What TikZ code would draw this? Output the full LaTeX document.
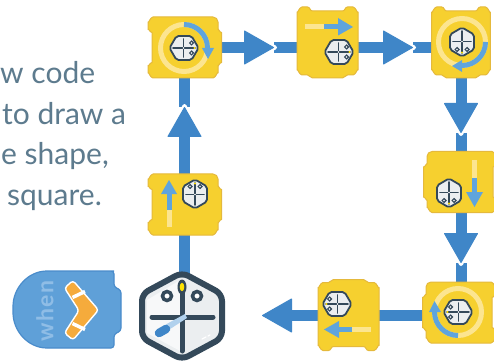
\documentclass[tikz,border=0pt]{standalone}
\usepackage{fontspec}
\setmainfont{Lato}
\definecolor{flowblue}{HTML}{3F86C8}
\definecolor{blockfill}{HTML}{F6D02F}
\definecolor{blockedge}{HTML}{E5B93C}
\definecolor{paleband}{HTML}{FCE590}
\definecolor{markblue}{HTML}{5FA4DD}
\definecolor{botdark}{HTML}{34495A}
\definecolor{botface}{HTML}{EBEEF0}
\definecolor{bodytext}{HTML}{5D7B8E}
\definecolor{hatfill}{HTML}{5FA0D8}
\definecolor{hatedge}{HTML}{4A8CCB}
\definecolor{hattext}{HTML}{8FBDE6}
\definecolor{boomorange}{HTML}{F5AB3C}
\tikzset{
  flowline/.style={draw=flowblue,line width=11pt},
  blockbody/.style={fill=blockfill,draw=blockedge,line width=1pt,line join=round},
  paleline/.style={draw=paleband,line width=5pt},
  markline/.style={draw=markblue,line width=5pt},
  markhead/.style={fill=markblue},
  saytext/.style={anchor=base west,inner sep=0pt,text=bodytext,font=\fontsize{30}{34}\selectfont},
  hblock/.pic={
    \path[blockbody] (0,-30.5)
      -- (30,-30.5) to[out=0,in=90] (35,-25.5) -- (35,-18) to[out=90,in=180] (38.5,-15) -- (38.5,15) to[out=180,in=-90] (35,18)
      -- (35,25.5) to[out=90,in=0] (30,30.5) -- (-30,30.5) to[out=180,in=90] (-35,25.5)
      -- (-35,18) to[out=-90,in=180] (-31,15) -- (-31,-15) to[out=180,in=90] (-35,-18)
      -- (-35,-25.5) to[out=-90,in=180] (-30,-30.5) -- cycle;
  },
  vblock/.pic={
    \path[blockbody] (0,-30)
      -- (15,-30) to[out=0,in=180] (20,-34) -- (25.5,-34) to[out=0,in=-90] (30.5,-29)
      -- (30.5,29) to[out=90,in=0] (25.5,34) -- (20,34) to[out=180,in=0] (15,37)
      -- (-15,37) to[out=180,in=0] (-20,34) -- (-25.5,34) to[out=180,in=90] (-30.5,29)
      -- (-30.5,-29) to[out=-90,in=180] (-25.5,-34) -- (-20,-34) to[out=0,in=180] (-15,-30) -- cycle;
  },
  minibot/.pic={
    \path[fill=botface,draw=botdark,line width=1.8pt,rounded corners=2pt]
      (0,-14.5) -- (12,-7.5) -- (12,7.5) -- (0,14.5) -- (-12,7.5) -- (-12,-7.5) -- cycle;
    \draw[botdark,line width=1.9pt,line cap=round] (0,-11) -- (0,11);
    \draw[botdark,line width=1.9pt,line cap=round] (-9,0.5) -- (9,0.5);
    \fill[white] (0,0.5) circle[radius=0.8];
    \path[fill=white,draw=botdark,line width=1.2pt] (-5,-7.5) circle[radius=1.9];
    \path[fill=white,draw=botdark,line width=1.2pt] (5,-7.5) circle[radius=1.9];
    \fill[yellow!80!orange] (0,-10.5) circle[radius=1.2];
  },
  flowhead/.pic={
    \path[fill=flowblue,draw=flowblue,line width=1pt,line join=round]
      (-0.5,0) -- (-29.5,-16.5) -- (-29.5,16.5) -- cycle;
  },
  flowhalo/.pic={
    \path[fill=white,draw=white,line width=4pt,line join=round]
      (1,0) -- (-29.5,-16.5) -- (-29.5,16.5) -- cycle;
  }
}
\newcommand{\flowh}[4]{%
  \draw[flowline] (#3) -- (#3 -| #2);
  \pic[rotate=#4] at (#3) {flowhalo};
  \draw[flowline,shorten >=15pt] (#3 -| #1) -- (#3);
  \pic[rotate=#4] at (#3) {flowhead};
}
\newcommand{\flowv}[4]{%
  \draw[flowline] (#3) -- (#3 |- #2);
  \pic[rotate=#4] at (#3) {flowhalo};
  \draw[flowline,shorten >=15pt] (#3 |- #1) -- (#3);
  \pic[rotate=#4] at (#3) {flowhead};
}
\begin{document}
\begin{tikzpicture}[x=1pt,y=-1pt]
\clip (0,0) rectangle (494,363);
\fill[white] (0,0) rectangle (494,363);
% text
\node[saytext] (say1) at (0,84) {w code};
\node[saytext] (say2) at (2,125) {to draw a};
\node[saytext] (say3) at (1,165) {e shape,};
\node[saytext] (say4) at (7,205) {square.};
% anchors
\coordinate (robot) at (182,316);
\coordinate (bforeright) at (183,47.5);
\coordinate (bforward) at (327.5,41);
\coordinate (btopright) at (461,41);
\coordinate (bdown) at (462,182);
\coordinate (bbotright) at (461,312.5);
\coordinate (bback) at (348.5,316.5);
\coordinate (bup) at (183,204.5);
\coordinate (tipa) at (274,47.5);
\coordinate (tipb) at (413,47.5);
\coordinate (tipc) at (461,133);
\coordinate (tipd) at (461,263);
\coordinate (tipe) at (262,315.5);
\coordinate (tipf) at (184.5,107);
% connectors
\draw[flowline] (tipf |- robot) -- (tipf |- bup);
\flowv{bup}{bforeright}{tipf}{90}
\flowh{bforeright}{bforward}{tipa}{0}
\flowh{bforward}{btopright}{tipb}{0}
\flowv{btopright}{bdown}{tipc}{-90}
\flowv{bdown}{bbotright}{tipd}{-90}
\draw[flowline] (tipe -| bbotright) -- (tipe -| bback);
\draw[flowline,shorten >=15pt] (tipe -| bback) -- (tipe);
\pic[rotate=180] at (tipe) {flowhead};
% blocks
\pic at (bforeright) {hblock};
\pic at (bup) {hblock};
\pic[xscale=-1] at (bdown) {hblock};
\pic[xscale=-1] at (bbotright) {hblock};
\pic at (bforward) {vblock};
\pic[xscale=.96] at (btopright) {vblock};
\pic[yscale=-1] at (bback) {vblock};
% block 1: turn right
\draw[paleline] (184,48) circle[radius=23.5];
\draw[markline] (184,48) ++(-90:23.5) arc[start angle=-90,end angle=0,radius=23.5];
\fill[markhead] (202,48) -- (214,48) -- (208,59) -- cycle;
\pic[rotate=-90] at (184,48) {minibot};
% block 2: forward
\draw[paleline] (305,27) -- (325,27);
\draw[markline] (324,27) -- (339,27);
\fill[markhead] (338,18) -- (338,35.5) -- (353,27) -- cycle;
\pic[rotate=-90] at (339,52) {minibot};
% block 3: turn right
\draw[paleline] (462,42) circle[radius=23.5];
\draw[markline] (462,42) ++(0:23.5) arc[start angle=0,end angle=90,radius=23.5];
\fill[markhead] (462,60) -- (462,72) -- (452,66) -- cycle;
\pic[rotate=180] at (462,42) {minibot};
% block 4: down
\draw[paleline] (474,160) -- (474,179);
\draw[markline] (474,178) -- (474,193);
\fill[markhead] (466,192) -- (483,192) -- (474.5,207) -- cycle;
\pic[rotate=180] at (449,193) {minibot};
% block 6: turn
\draw[paleline] (458,312) circle[radius=23.5];
\draw[markline] (458,312) ++(90:23.5) arc[start angle=90,end angle=180,radius=23.5];
\fill[markhead] (429,312) -- (441,312) -- (434.5,301) -- cycle;
\pic[rotate=90] at (458,312) {minibot};
% block 5: back
\draw[paleline] (371,329) -- (351,329);
\draw[markline] (352,329) -- (337,329);
\fill[markhead] (339,321) -- (339,338) -- (324,329.5) -- cycle;
\pic[rotate=90] at (337,304) {minibot};
% block 7: up
\draw[paleline] (169,227) -- (169,209);
\draw[markline] (169,210) -- (169,193);
\fill[markhead] (161,194) -- (177,194) -- (169,180) -- cycle;
\pic at (195,194) {minibot};
% robot
\path[fill=botface,draw=botdark,line width=6pt,rounded corners=7pt,line join=round]
  (robot) ++(0,-43.5) -- ++(40,21.5) -- ++(0,44) -- ++(-40,21.5) -- ++(-40,-21.5) -- ++(0,-44) -- cycle;
\fill[white,opacity=.6] (147,300) -- (182,279) -- (182,352) -- (147,333) -- cycle;
\draw[botdark,line width=5pt,line cap=round] (182,284) -- (182,351);
\draw[botdark,line width=5pt,line cap=round] (152,317) -- (213,317);
\fill[botdark] (182,287) ellipse[x radius=4.5,y radius=7.5];
\fill[yellow!85!orange] (182,287) ellipse[x radius=2.3,y radius=4.2];
\path[fill=white,draw=botdark,line width=3.5pt] (167,296) circle[radius=4.5];
\path[fill=white,draw=botdark,line width=3.5pt] (197,296) circle[radius=4.5];
\fill[hattext!70!white] (185,314) -- (187,318) -- (167,331) -- (163,326) -- cycle;
\draw[flowblue,line width=8.5pt,line cap=round] (159,333) -- (166,329);
\draw[white,line width=1.3pt,line cap=round] (202,339) -- (206,337);
\draw[white,line width=1.3pt,line cap=round] (208,336) -- (210,335);
% when hat
\path[fill=hatfill,draw=hatedge,line width=1.2pt,rounded corners=3pt]
  (111,271) -- (114,271) -- (114,287) -- (121,290) -- (121,331) -- (114,334) -- (114,348) -- (52,348)
  -- (50,348) .. controls (28,348) and (13,331) .. (13,309.5) .. controls (13,288) and (28,271) .. (50,271) -- cycle;
\node[rotate=90,inner sep=0pt,text=hattext,font=\bfseries\fontsize{23}{26}\selectfont\addfontfeatures{LetterSpace=6}] (whenlabel) at (45,311) {when};
% boomerang
\path[fill=boomorange,draw=white,line width=1.4pt,rounded corners=3pt,line join=round]
  (64.5,288) -- (73,280.5) -- (98.5,310) -- (73,340) -- (64.5,333) -- (79,310.5) -- cycle;
\draw[white,line width=3.5pt] (72.5,297.5) -- (85,291.5);
\draw[white,line width=3.5pt] (72.5,323.5) -- (85,329.5);
\end{tikzpicture}
\end{document}
